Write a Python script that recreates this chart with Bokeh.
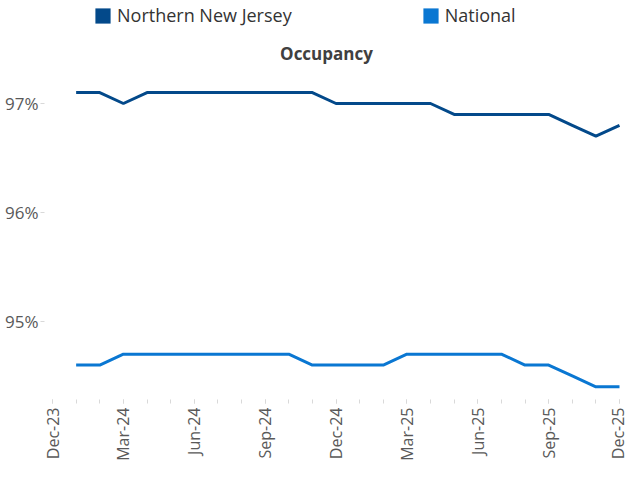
import math
from bokeh.plotting import figure
from bokeh.models import (Range1d, FixedTicker, PrintfTickFormatter, Legend, LegendItem, Label)
from bokeh.embed import file_html
from bokeh.resources import INLINE

# ---- data ----
axis_start = "Dec-23"
months = ["Jan-24", "Feb-24", "Mar-24", "Apr-24", "May-24", "Jun-24", "Jul-24", "Aug-24",
          "Sep-24", "Oct-24", "Nov-24", "Dec-24", "Jan-25", "Feb-25", "Mar-25", "Apr-25",
          "May-25", "Jun-25", "Jul-25", "Aug-25", "Sep-25", "Oct-25", "Nov-25", "Dec-25"]
northern_nj = [97.1, 97.1, 97.0, 97.1, 97.1, 97.1, 97.1, 97.1, 97.1, 97.1, 97.1, 97.0,
               97.0, 97.0, 97.0, 97.0, 96.9, 96.9, 96.9, 96.9, 96.9, 96.8, 96.7, 96.8]
national = [94.6, 94.6, 94.7, 94.7, 94.7, 94.7, 94.7, 94.7, 94.7, 94.7, 94.6, 94.6,
            94.6, 94.6, 94.7, 94.7, 94.7, 94.7, 94.7, 94.6, 94.6, 94.5, 94.4, 94.4]
tick_labels = ["Dec-23", "Mar-24", "Jun-24", "Sep-24", "Dec-24", "Mar-25", "Jun-25", "Sep-25", "Dec-25"]
y_ticks = [95, 96, 97]
series_names = ["Northern New Jersey", "National"]
title_text = "Occupancy"

# ---- styling ----
C_NNJ = "#03498A"
C_NAT = "#0A77D2"
FONT = "Open Sans"
GREY = "#595959"

all_months = [axis_start] + months
xs = [all_months.index(m) for m in months]
major = [all_months.index(t) for t in tick_labels]
minor = list(range(len(all_months)))

FL = 44                 # left border (y labels)
FW, FH = 628 - FL, 399  # frame size
x_start, x_end = -0.339, len(all_months) - 1 + 0.381
y_start, y_end = 94.284, 97.945

p = figure(frame_width=FW, frame_height=FH, output_backend="svg", toolbar_location=None,
           x_range=Range1d(x_start, x_end), y_range=Range1d(y_start, y_end),
           min_border_left=FL, min_border_bottom=40, min_border_top=0, min_border_right=0)
p.outline_line_color = None
p.grid.visible = False
p.background_fill_color = "white"
p.border_fill_color = "white"

p.line(xs, northern_nj, line_color=C_NNJ, line_width=3)
p.line(xs, national, line_color=C_NAT, line_width=3)

# legend swatches: zero-size quads (invisible in the plot, square in the legend)
q1 = p.quad(left=xs[:1], right=xs[:1], top=northern_nj[:1], bottom=northern_nj[:1],
            fill_color=C_NNJ, line_color=None)
q2 = p.quad(left=xs[:1], right=xs[:1], top=national[:1], bottom=national[:1],
            fill_color=C_NAT, line_color=None)

legend = Legend(items=[LegendItem(label=series_names[0], renderers=[q1]),
                       LegendItem(label=series_names[1], renderers=[q2])],
                orientation="horizontal", location=(49, 372),
                glyph_width=19, glyph_height=19, label_standoff=5, spacing=129,
                padding=0, margin=0, border_line_color=None, background_fill_alpha=0,
                label_text_font=FONT, label_text_font_size="18px", label_text_color="#333333")
p.add_layout(legend)

# title
ppu_x = FW / (x_end - x_start)
ppu_y = FH / (y_end - y_start)
title = Label(x=x_start + (326 - FL) / ppu_x, y=y_end - 53 / ppu_y, text=title_text,
              text_font=FONT, text_font_size="17px", text_font_style="bold",
              text_color="#404040", text_align="center", text_baseline="middle")
p.add_layout(title)

# x axis
xa = p.xaxis[0]
xa.ticker = FixedTicker(ticks=major, minor_ticks=minor)
xa.major_label_overrides = {i: t for i, t in zip(major, tick_labels)}
xa.major_label_orientation = math.pi / 2
xa.axis_line_color = None
xa.major_tick_line_color = "#D9D9D9"
xa.minor_tick_line_color = "#D9D9D9"
xa.major_tick_in = 0
xa.major_tick_out = 4
xa.minor_tick_in = 0
xa.minor_tick_out = 4
xa.major_label_standoff = 4
xa.major_label_text_font = FONT
xa.major_label_text_font_size = "16px"
xa.major_label_text_color = GREY

# y axis
ya = p.yaxis[0]
ya.ticker = FixedTicker(ticks=y_ticks)
ya.formatter = PrintfTickFormatter(format="%d%%")
ya.axis_line_color = None
ya.major_tick_line_color = "#D9D9D9"
ya.minor_tick_line_color = None
ya.major_tick_in = 0
ya.major_tick_out = 4
ya.major_label_standoff = 2
ya.major_label_text_font = FONT
ya.major_label_text_font_size = "17px"
ya.major_label_text_color = GREY

open("out.html", "w").write(file_html(p, INLINE))
